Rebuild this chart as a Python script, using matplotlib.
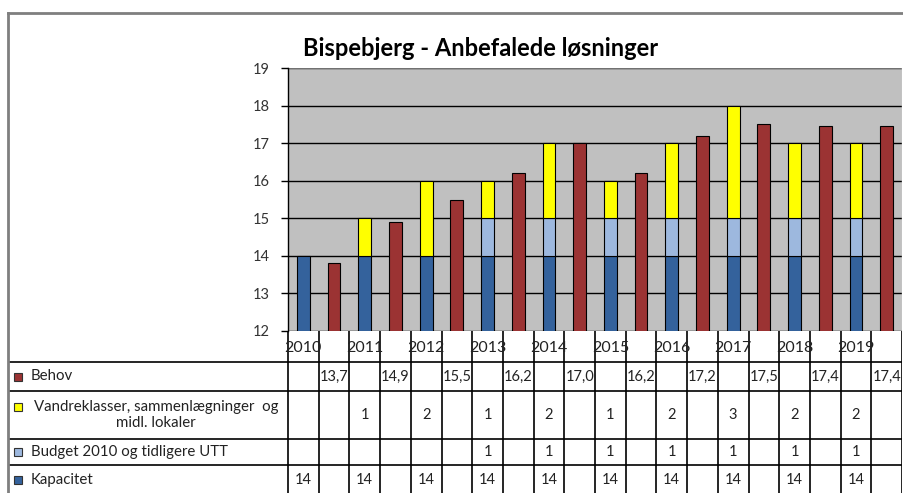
import matplotlib
matplotlib.use("Agg")
import matplotlib.pyplot as plt
from matplotlib.lines import Line2D
from matplotlib.patches import Rectangle

plt.rcParams['font.family'] = ['Lato', 'DejaVu Sans']

years = ['2010', '2011', '2012', '2013', '2014', '2015', '2016', '2017', '2018', '2019']
kapacitet = [14, 14, 14, 14, 14, 14, 14, 14, 14, 14]
budget = [0, 0, 0, 1, 1, 1, 1, 1, 1, 1]
vandre = [0, 1, 2, 1, 2, 1, 2, 3, 2, 2]
behov = [13.8, 14.9, 15.5, 16.2, 17.0, 16.2, 17.2, 17.5, 17.45, 17.45]
behov_labels = ['13,7', '14,9', '15,5', '16,2', '17,0', '16,2', '17,2', '17,5', '17,4', '17,4']

c_kap = '#34629c'
c_bud = '#9db8de'
c_van = '#ffff00'
c_beh = '#9b3333'

W, H = 904, 493
fig = plt.figure(figsize=(W / 100, H / 100), dpi=100)

# plot area in pixels
pl, pr, pt, pb = 288, 902, 68, 331
slot_w = (pr - pl) / 20

ax = fig.add_axes([pl / W, 1 - pb / H, (pr - pl) / W, (pb - pt) / H])
ax.set_facecolor('#c0c0c0')
ax.set_xlim(-0.5, 19.5)
ax.set_ylim(12, 19)

xs_stack = [2 * i for i in range(len(years))]
xs_beh = [2 * i + 1 for i in range(len(years))]
bw = 0.42
ax.bar(xs_stack, kapacitet, bw, color=c_kap, edgecolor='black', lw=0.8, zorder=3)
ax.bar([x for x, b in zip(xs_stack, budget) if b], [b for b in budget if b], bw,
       bottom=[k for k, b in zip(kapacitet, budget) if b],
       color=c_bud, edgecolor='black', lw=0.8, zorder=3)
van_bottom = [k + b for k, b in zip(kapacitet, budget)]
ax.bar([x for x, v in zip(xs_stack, vandre) if v], [v for v in vandre if v], bw,
       bottom=[vb for vb, v in zip(van_bottom, vandre) if v],
       color=c_van, edgecolor='black', lw=0.8, zorder=3)
ax.bar(xs_beh, behov, bw, color=c_beh, edgecolor='black', lw=0.8, zorder=3)

ax.set_yticks(range(12, 20))
ax.yaxis.grid(True, color='black', lw=1)
ax.set_axisbelow(True)
ax.set_xticks([])
ax.tick_params(axis='y', direction='out', length=5, width=1, labelsize=10.5,
               colors='black', labelcolor='#333333', pad=8)
for s in ['top', 'right', 'bottom']:
    ax.spines[s].set_visible(False)
ax.spines['left'].set_color('black')
ax.spines['left'].set_linewidth(1)
ax.axhline(19, color='#8a8a8a', lw=1.2, zorder=2)
ax.axvline(19.5, color='#d0d0d0', lw=1, zorder=2)

fig.text(481 / W, 1 - 48 / H, 'Bispebjerg - Anbefalede løsninger', ha='center',
         va='center', fontsize=17, fontweight='bold', color='black')

# data table under the chart
row_h = [31, 29, 48, 26, 30]
row_edges = [0]
for h in row_h:
    row_edges.append(row_edges[-1] + h)
left_slot = -0.5 - (pl - 8) / slot_w
tab = fig.add_axes([8 / W, 0, (pr - 8) / W, (H - pb) / H])
tab.set_xlim(left_slot, 19.5)
tab.set_ylim(H - pb, 0)
tab.axis('off')

lc = 'black'
for y in row_edges[1:-1]:
    tab.plot([left_slot, 19.5], [y, y], color=lc, lw=1.2)
for k in range(21):
    tab.plot([k - 0.5, k - 0.5], [0, row_edges[-1]], color=lc, lw=1.2)

def mid(r):
    return (row_edges[r] + row_edges[r + 1]) / 2

tc = '#222222'
for i, yr in enumerate(years):
    tab.text(xs_stack[i], mid(0) + 2, yr, ha='center', va='center', fontsize=11.5, color=tc)
    tab.text(xs_beh[i], mid(1), behov_labels[i], ha='center', va='center', fontsize=10.5, color=tc)
    if vandre[i]:
        tab.text(xs_stack[i], mid(2), str(vandre[i]), ha='center', va='center', fontsize=10.5, color=tc)
    if budget[i]:
        tab.text(xs_stack[i], mid(3), str(budget[i]), ha='center', va='center', fontsize=10.5, color=tc)
    tab.text(xs_stack[i], mid(4), str(kapacitet[i]), ha='center', va='center', fontsize=10.5, color=tc)

# legend keys in the left column
key_x = left_slot + 6 / slot_w
key_w = 8 / slot_w
txt_x = left_slot + 23 / slot_w
legend_rows = [(1, c_beh, 'Behov'),
               (2, c_van, 'Vandreklasser, sammenlægninger  og\nmidl. lokaler'),
               (3, c_bud, 'Budget 2010 og tidligere UTT'),
               (4, c_kap, 'Kapacitet')]
for r, col, lab in legend_rows:
    y = mid(r)
    ky = y - 8 if r == 2 else y
    tab.add_patch(Rectangle((key_x, ky - 4), key_w, 8, facecolor=col, edgecolor='#333333', lw=0.8))
    if r == 2:
        tab.text(left_slot + 148 / slot_w, y, lab, ha='center', va='center', fontsize=10.8,
                 color=tc, multialignment='center', linespacing=1.25)
    else:
        tab.text(txt_x, y, lab, ha='left', va='center', fontsize=10.8, color=tc)

# outer chart frame
fig.add_artist(Line2D([8 / W, 8 / W], [0, 1 - 13 / H], transform=fig.transFigure, color='#7f7f7f', lw=2))
fig.add_artist(Line2D([8 / W, 1], [1 - 13 / H, 1 - 13 / H], transform=fig.transFigure, color='#7f7f7f', lw=2))

fig.savefig('out.png', dpi=100)
